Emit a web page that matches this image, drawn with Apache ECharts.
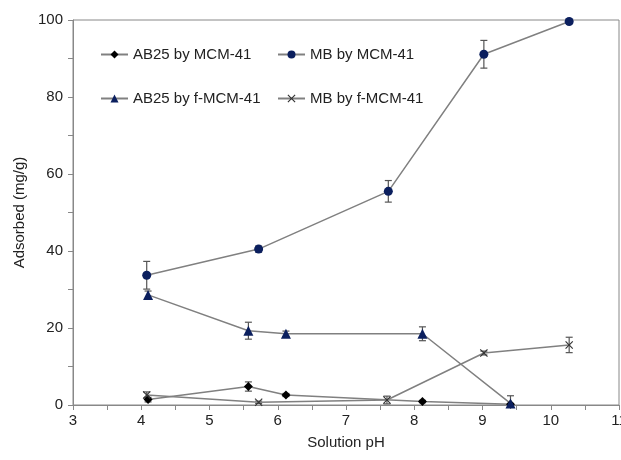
<!DOCTYPE html>
<html>
<head>
<meta charset="utf-8">
<script src="https://cdn.jsdelivr.net/npm/echarts@6/dist/echarts.min.js"></script>
<style>html,body{margin:0;padding:0;background:#fff}#c{width:621px;height:460px}</style>
</head>
<body>
<div id="c"></div>
<script>
// Data
var seriesNames = ['AB25 by MCM-41', 'MB by MCM-41', 'AB25 by f-MCM-41', 'MB by f-MCM-41'];
var ab25McmX = [4.1, 5.57, 6.12, 8.12, 9.41];
var ab25McmY = [1.4, 4.8, 2.6, 0.9, 0.2];
var ab25McmErr = [0.6, 1.2, 0.4, 0.3, 0.2];
var mbMcmX = [4.08, 5.72, 7.62, 9.02, 10.27];
var mbMcmY = [33.7, 40.5, 55.5, 91.1, 99.6];
var mbMcmErr = [3.6, 0.8, 2.8, 3.6, 0.5];
var ab25fX = [4.1, 5.57, 6.12, 8.12, 9.41];
var ab25fY = [28.6, 19.3, 18.5, 18.5, 0.4];
var ab25fErr = [1.0, 2.2, 0.7, 1.8, 2.0];
var mbfX = [4.08, 5.72, 7.6, 9.02, 10.27];
var mbfY = [2.6, 0.7, 1.3, 13.5, 15.6];
var mbfErr = [0.8, 0.3, 1.0, 0.5, 2.0];
var xTicks = [3, 4, 5, 6, 7, 8, 9, 10, 11];
var yTicks = [0, 20, 40, 60, 80, 100];

function pts(xs, ys) { return xs.map(function (x, i) { return [x, ys[i]]; }); }
function errPts(xs, ys, es) { return xs.map(function (x, i) { return [x, ys[i], es[i]]; }); }

var crossPath = 'path://M0,1 L1,0 L5,4 L9,0 L10,1 L6,5 L10,9 L9,10 L5,6 L1,10 L0,9 L4,5 Z';
var navy = '#0b1f5e';
var lineCol = '#808080';
var font = 'Liberation Sans, Arial, sans-serif';
var fs = 15;

function errSeries(data) {
  return {
    type: 'custom',
    silent: true,
    z: 3,
    clip: true,
    data: data,
    renderItem: function (params, api) {
      var x = api.value(0), y = api.value(1), e = api.value(2);
      var top = api.coord([x, y + e]);
      var bot = api.coord([x, Math.max(y - e, 0)]);
      var w = 3.5;
      var st = { stroke: '#555', lineWidth: 1.2 };
      return {
        type: 'group',
        children: [
          { type: 'line', shape: { x1: top[0], y1: top[1], x2: bot[0], y2: bot[1] }, style: st },
          { type: 'line', shape: { x1: top[0] - w, y1: top[1], x2: top[0] + w, y2: top[1] }, style: st },
          { type: 'line', shape: { x1: bot[0] - w, y1: bot[1], x2: bot[0] + w, y2: bot[1] }, style: st }
        ]
      };
    }
  };
}

function lineSeries(name, data, symbol, size, color) {
  return {
    name: name, type: 'line', data: data, symbol: symbol, symbolSize: size,
    showAllSymbol: true, z: 4,
    lineStyle: { color: lineCol, width: 1.5 },
    itemStyle: { color: color, borderWidth: 0 },
    emphasis: { disabled: true }
  };
}

function legendAt(name, left, top) {
  return {
    data: [name], left: left, top: top, padding: 0, itemWidth: 27, itemHeight: 10, itemGap: 0,
    textStyle: { fontFamily: font, fontSize: fs, color: '#222' },
    selectedMode: false
  };
}

var chart = echarts.init(document.getElementById('c'), null, { renderer: 'canvas' });
chart.setOption({
  animation: false,
  backgroundColor: '#fff',
  grid: { left: 73, right: 2, top: 20, bottom: 55, show: true, borderColor: '#888', borderWidth: 1,
          outerBoundsMode: 'none', containLabel: false },
  legend: [
    legendAt(seriesNames[0], 100, 47),
    legendAt(seriesNames[1], 277, 47),
    legendAt(seriesNames[2], 100, 91),
    legendAt(seriesNames[3], 277, 91)
  ],
  xAxis: {
    type: 'value', min: xTicks[0], max: xTicks[xTicks.length - 1], interval: 1,
    name: 'Solution pH', nameLocation: 'middle', nameGap: 30,
    nameTextStyle: { fontFamily: font, fontSize: fs, color: '#222' },
    axisLine: { lineStyle: { color: '#888', width: 1 } },
    axisTick: { show: true, inside: false, length: 5, lineStyle: { color: '#888' } },
    minorTick: { show: true, splitNumber: 2, length: 5, lineStyle: { color: '#888' } },
    axisLabel: { fontFamily: font, fontSize: fs, color: '#222', margin: 8 },
    splitLine: { show: false }
  },
  yAxis: {
    type: 'value', min: yTicks[0], max: yTicks[yTicks.length - 1], interval: 20,
    name: 'Adsorbed (mg/g)', nameLocation: 'middle', nameGap: 44, nameRotate: 90,
    nameTextStyle: { fontFamily: font, fontSize: fs, color: '#222' },
    axisLine: { show: true, lineStyle: { color: '#888', width: 1 } },
    axisTick: { show: true, inside: false, length: 5, lineStyle: { color: '#888' } },
    minorTick: { show: true, splitNumber: 2, length: 5, lineStyle: { color: '#888' } },
    axisLabel: { fontFamily: font, fontSize: fs, color: '#222', margin: 10 },
    splitLine: { show: false }
  },
  series: [
    errSeries(errPts(ab25McmX, ab25McmY, ab25McmErr)),
    errSeries(errPts(mbMcmX, mbMcmY, mbMcmErr)),
    errSeries(errPts(ab25fX, ab25fY, ab25fErr)),
    errSeries(errPts(mbfX, mbfY, mbfErr)),
    lineSeries(seriesNames[0], pts(ab25McmX, ab25McmY), 'diamond', 9, '#000'),
    lineSeries(seriesNames[1], pts(mbMcmX, mbMcmY), 'circle', 9, navy),
    lineSeries(seriesNames[2], pts(ab25fX, ab25fY), 'triangle', 10, navy),
    lineSeries(seriesNames[3], pts(mbfX, mbfY), crossPath, 8, '#333')
  ]
});
</script>
</body>
</html>
